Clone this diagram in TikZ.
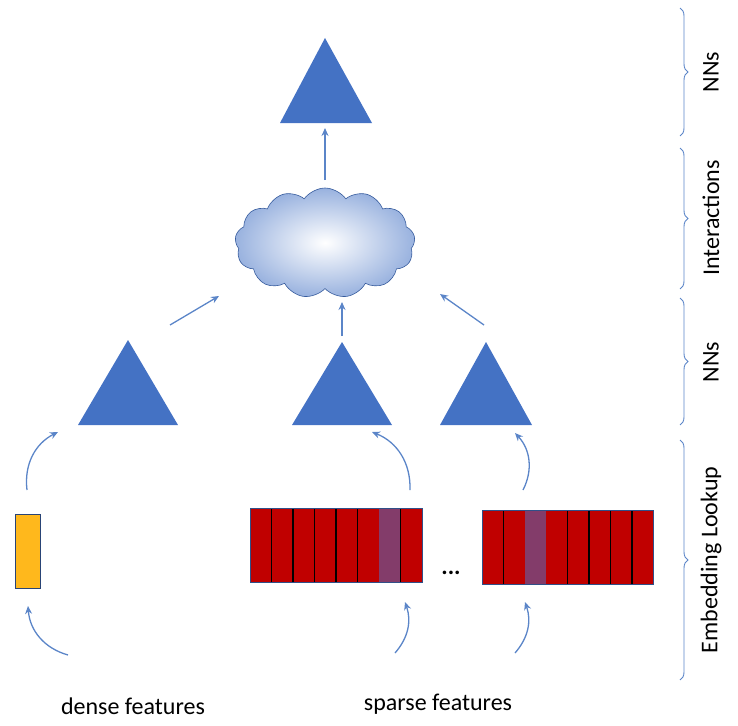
\documentclass[tikz,border=0pt]{standalone}
\usepackage{fontspec}
\setmainfont{Carlito}
\usetikzlibrary{shapes.symbols,decorations.pathreplacing,arrows.meta}
\definecolor{tb}{HTML}{4472C4}
\definecolor{ar}{HTML}{5B85C8}
\definecolor{rd}{HTML}{C00000}
\definecolor{pu}{HTML}{833C6A}
\definecolor{ye}{HTML}{FFB81C}
\begin{document}
\begin{tikzpicture}[x=1pt,y=-1pt,
  tri/.style={fill=tb,draw=none},
  arr/.style={draw=ar,line width=1.3pt,-{Stealth[length=8pt,width=7pt]}},
  brace/.style={draw=ar,line width=0.9pt,decorate,decoration={brace,amplitude=8pt}},
  lab/.style={font=\fontsize{24}{28}\selectfont},
  blab/.style={font=\fontsize{24}{28}\selectfont,rotate=90}]
\useasboundingbox (0,0) rectangle (738,725);
% triangles
\fill[tri] (325,38) coordinate (t0) -- (372,123) -- (280,123) -- cycle;
\fill[tri] (128,340) coordinate (t1) -- (178,425) -- (78,425) -- cycle;
\fill[tri] (342,342) coordinate (t2) -- (392,425) -- (292,425) -- cycle;
\fill[tri] (486,342) coordinate (t3) -- (532,425) -- (440,425) -- cycle;
% cloud
\node[cloud,cloud puffs=13,cloud puff arc=110,aspect=1.7,draw=tb!80!black,line width=0.6pt,
  inner color=white,outer color=tb!55,minimum width=180pt,minimum height=110pt] (cl) at (325,243) {};
\coordinate (a0s) at (325,180); \coordinate (a0e) at (325,128);
\draw[arr] (a0s) -- (a0e);
\coordinate (a1s) at (170,325); \coordinate (a1e) at (219,296);
\draw[arr] (a1s) -- (a1e);
\coordinate (a2s) at (342,336); \coordinate (a2e) at (342,302);
\draw[arr] (a2s) -- (a2e);
\coordinate (a3s) at (484,325); \coordinate (a3e) at (440,294);
\draw[arr] (a3s) -- (a3e);
% yellow
\node[draw=tb!60!black,fill=ye,minimum width=25pt,minimum height=74pt,inner sep=0pt,line width=0.8pt] (dense) at (27.5,551) {};
% bar 1
\foreach \i in {0,...,7}{
  \pgfmathsetmacro\xa{250+\i*21.5}
  \ifnum\i=6 \fill[pu] (\xa,508) rectangle ++(21.5,74); \else \fill[rd] (\xa,508) rectangle ++(21.5,74); \fi}
\foreach \i in {1,...,7}{\ifnum\i=6\else\draw[black,line width=1.6pt] ({250+\i*21.5},508) -- ++(0,74);\fi}
\node[draw=tb!70!black,line width=0.8pt,minimum width=172pt,minimum height=74pt,inner sep=0pt] (b1) at (336,545) {};
% bar 2
\foreach \i in {0,...,7}{
  \pgfmathsetmacro\xa{482+\i*21.4}
  \ifnum\i=2 \fill[pu] (\xa,510) rectangle ++(21.4,74); \else \fill[rd] (\xa,510) rectangle ++(21.4,74); \fi}
\foreach \i in {1,4,5,6,7}{\draw[black,line width=1.6pt] ({482+\i*21.4},510) -- ++(0,74);}
\node[draw=tb!70!black,line width=0.8pt,minimum width=171pt,minimum height=74pt,inner sep=0pt] (b2) at (567.5,547) {};
\node[lab] (dots) at (451,573) {\textbf{...}};
% curved arrows
\draw[arr] (27,490) to[bend left=35] (58,432);
\draw[arr] (410,490) to[bend right=35] (372,432);
\draw[arr] (523,490) to[bend right=35] (515,433);
\draw[arr] (68,655) to[bend left=35] (28,606);
\draw[arr] (395,653) to[bend right=30] (405,602);
\draw[arr] (515,653) to[bend right=30] (525,602);
% labels
\node[lab] (dl) at (133,706) {dense features};
\node[lab] (sl) at (438,704) {sparse features};
% braces
\draw[brace] (680,8) -- (680,136) node[midway] (m1) {};
\draw[brace] (680,148) -- (680,289) node[midway] (m2) {};
\draw[brace] (680,298) -- (680,425) node[midway] (m3) {};
\draw[brace] (680,440) -- (680,680) node[midway] (m4) {};
\node[blab] (l1) at (711,72) {NNs};
\node[blab] (l2) at (711,218) {Interactions};
\node[blab] (l3) at (711,362) {NNs};
\node[blab] (l4) at (711,560) {Embedding Lookup};
\end{tikzpicture}
\end{document}
